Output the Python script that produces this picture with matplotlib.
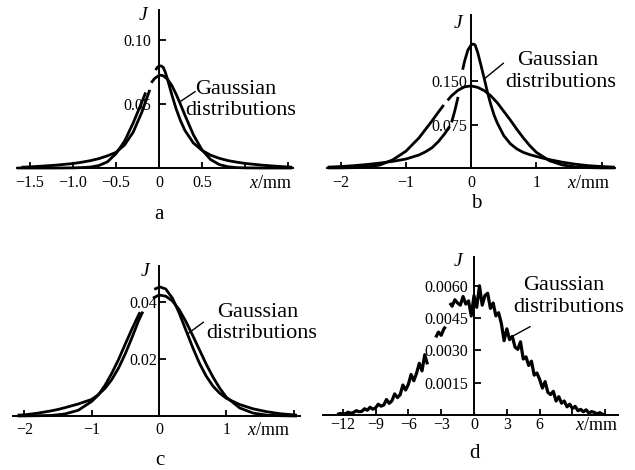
import matplotlib
matplotlib.use("Agg")
import matplotlib.pyplot as plt
import numpy as np
from matplotlib.lines import Line2D

plt.rcParams['font.family'] = 'Liberation Serif'
plt.rcParams['mathtext.fontset'] = 'custom'
plt.rcParams['mathtext.rm'] = 'Liberation Serif'
plt.rcParams['mathtext.it'] = 'Liberation Serif:italic'

W, H = 635, 470
M = '\u2212'

# ---- panel a (None = break in the printed curve) ----
xa_g = [-1.65, -1.2, -1.0, -0.9, -0.8, -0.7, -0.6, -0.5, -0.4, -0.3, -0.2, -0.155, None,
        -0.09, -0.05, 0, 0.02, 0.05, 0.1, 0.15, 0.2, 0.25, 0.3, 0.4, 0.5, 0.6, 0.7, 0.8,
        0.9, 1.0, 1.2, 1.55]
ja_g = [0, 0, 0.0001, 0.0003, 0.0007, 0.0019, 0.0048, 0.0112, 0.0210, 0.0352, 0.0514, 0.0590, None,
        0.0666, 0.0700, 0.0723, 0.0725, 0.0720, 0.0693, 0.0643, 0.0575, 0.0497, 0.0415, 0.0259,
        0.0141, 0.0066, 0.0027, 0.0010, 0.0003, 0.0001, 0, 0]
xa_s = [-1.6, -1.5, -1.4, -1.2, -1.0, -0.9, -0.8, -0.7, -0.6, -0.5, -0.4, -0.3, -0.2, -0.15,
        -0.107, None, -0.04, -0.02, 0, 0.025, 0.05, 0.075, 0.1, 0.15, 0.2, 0.25, 0.3, 0.4, 0.5,
        0.6, 0.7, 0.8, 0.9, 1.0, 1.2, 1.4, 1.55]
ja_s = [0.0006, 0.0009, 0.0013, 0.0022, 0.0035, 0.0045, 0.0057, 0.0073, 0.0095, 0.0122, 0.0180,
        0.0280, 0.0435, 0.0530, 0.0610, None, 0.0765, 0.0785, 0.0797, 0.0797, 0.0785, 0.0745,
        0.0690, 0.0570, 0.0460, 0.0370, 0.0295, 0.0195, 0.0138, 0.0100, 0.0076, 0.0058, 0.0046,
        0.0036, 0.0022, 0.0012, 0.0006]

# ---- panel b ----
xb_g = [-2.2, -2.0, -1.8, -1.6, -1.4, -1.2, -1.0, -0.8, -0.6, -0.5, -0.42, None, -0.36, -0.3,
        -0.2, -0.1, 0, 0.1, 0.2, 0.3, 0.4, 0.5, 0.6, 0.7, 0.8, 0.9, 1.0, 1.2, 1.4, 1.6, 1.8,
        2.0, 2.2]
jb_g = [0.0001, 0.0002, 0.0006, 0.0018, 0.0051, 0.0142, 0.0290, 0.0520, 0.0814, 0.0970, 0.1090,
        None, 0.1170, 0.1250, 0.1346, 0.1405, 0.1420, 0.1395, 0.1340, 0.1250, 0.1130, 0.0980,
        0.0830, 0.0670, 0.0520, 0.0385, 0.0270, 0.0125, 0.0052, 0.0018, 0.0006, 0.0002, 0.0001]
xb_s = [-2.2, -2.0, -1.8, -1.6, -1.4, -1.2, -1.0, -0.8, -0.7, -0.6, -0.5, -0.4, -0.33, None,
        -0.3, -0.25, -0.2, None, -0.13, -0.1, -0.05, 0, 0.03, 0.06, 0.1, 0.15, 0.2, 0.25, 0.3,
        0.35, 0.4, 0.5, 0.6, 0.7, 0.8, 0.9, 1.0, 1.1, 1.2, 1.4, 1.6, 1.8, 2.0, 2.2]
jb_s = [0.0015, 0.0025, 0.0040, 0.0060, 0.0085, 0.0115, 0.0155, 0.0225, 0.0280, 0.0350, 0.0460,
        0.0600, 0.0720, None, 0.0790, 0.0990, 0.1230, None, 0.1700, 0.1850, 0.2040, 0.2130,
        0.2145, 0.2130, 0.2000, 0.1780, 0.1550, 0.1310, 0.1100, 0.0920, 0.0780, 0.0560, 0.0420,
        0.0330, 0.0270, 0.0230, 0.0200, 0.0170, 0.0145, 0.0100, 0.0065, 0.0040, 0.0025, 0.0015]

# ---- panel c ----
xc_g = [-2.1, -1.8, -1.6, -1.4, -1.2, -1.0, -0.9, -0.8, -0.7, -0.6, -0.5, -0.4, -0.3, -0.28,
        None, -0.09, 0, 0.1, 0.2, 0.3, 0.4, 0.5, 0.6, 0.7, 0.8, 0.9, 1.0, 1.2, 1.4, 1.6, 1.8,
        2.05]
jc_g = [0, 0.0001, 0.0002, 0.0007, 0.0020, 0.0051, 0.0074, 0.0108, 0.0150, 0.0198, 0.0252,
        0.0305, 0.0355, 0.0363, None, 0.0412, 0.0423, 0.0419, 0.0402, 0.0372, 0.0330, 0.0282,
        0.0232, 0.0182, 0.0137, 0.0098, 0.0066, 0.0028, 0.0010, 0.0003, 0.0001, 0]
xc_s = [-2.1, -2.0, -1.8, -1.6, -1.5, -1.4, -1.2, -1.0, -0.9, -0.8, -0.7, -0.6, -0.5, -0.4,
        -0.3, -0.24, None, -0.07, 0, 0.02, 0.1, 0.2, 0.3, 0.4, 0.5, 0.6, 0.7, 0.8, 0.9, 1.0,
        1.2, 1.4, 1.6, 1.8, 2.05]
jc_s = [0.0003, 0.0004, 0.0010, 0.0018, 0.0023, 0.0029, 0.0042, 0.0058, 0.0075, 0.0097, 0.0128,
        0.0168, 0.0218, 0.0275, 0.0335, 0.0365, None, 0.0443, 0.0450, 0.0451, 0.0444, 0.0412,
        0.0360, 0.0300, 0.0240, 0.0185, 0.0140, 0.0105, 0.0080, 0.0062, 0.0040, 0.0025, 0.0015,
        0.0008, 0.0003]

# ---- panel d: measured (noisy) profile, J in units of 1e-4 ----
xd = [-12.5, -12.25, -12.0, -11.75, -11.5, -11.25, -11.0, -10.75, -10.5, -10.25, -10.0,
      -9.75, -9.5, -9.25, -9.0, -8.75, -8.5, -8.25, -8.0, -7.75, -7.5, -7.25, -7.0, -6.75,
      -6.5, -6.25, -6.0, -5.75, -5.5, -5.25, -5.0, -4.75, -4.5, -4.25, None,
      -3.5, -3.25, -3.0, -2.75, -2.6, None,
      -2.2, -2.0, -1.75, -1.5, -1.25, -1.0, -0.75, -0.5, -0.25, 0.0, 0.25, 0.5, 0.75, 1.0,
      1.25, 1.5, 1.75, 2.0, 2.25, 2.5, 2.75, 3.0, 3.25, 3.5, 3.75, 4.0, 4.25, 4.5, 4.75, 5.0,
      5.25, 5.5, 5.75, 6.0, 6.25, 6.5, 6.75, 7.0, 7.25, 7.5, 7.75, 8.0, 8.25, 8.5, 8.75, 9.0,
      9.25, 9.5, 9.75, 10.0, 10.25, 10.5, 10.75, 11.0, 11.25, 11.5, 11.75, 12.0]
jd_e4 = [0.2, 0.7, 0.5, 0.6, 1.3, 0.8, 1.2, 2.0, 1.5, 1.7, 2.9,
         2.2, 3.6, 2.7, 3.3, 5.0, 4.1, 4.6, 7.2, 5.4, 6.6, 9.8, 8.1, 9.4,
         13.9, 11.6, 14.2, 18.8, 15.9, 19.4, 24.0, 20.5, 28.0, 23.5, None,
         36.0, 38.5, 37.0, 40.0, 41.0, None,
         52.0, 50.5, 53.5, 52.0, 51.0, 55.0, 51.5, 53.0, 46.0, 55.5, 50.0, 60.0, 51.0, 55.5,
         56.5, 49.5, 52.0, 46.0, 47.5, 42.5, 34.5, 40.0, 35.0, 36.5, 31.5, 30.5, 34.0, 26.0,
         27.0, 23.0, 25.0, 18.5, 19.5, 16.5, 12.5, 15.5, 10.5, 9.5, 11.0, 6.5, 8.5, 5.5, 6.5,
         3.8, 5.0, 3.0, 4.0, 2.0, 2.6, 1.5, 2.4, 0.9, 1.6, 1.2, 0.5, 1.1, 0.3, 0.2]


def arr(v):
    return np.array([np.nan if e is None else e for e in v], dtype=float)


fig = plt.figure(figsize=(W / 100, H / 100), dpi=100)


def panel(left, right, axis_y, top, xlim, ylim):
    ax = fig.add_axes([left / W, 1 - axis_y / H, (right - left) / W, (axis_y - top) / H])
    ax.set_xlim(xlim)
    ax.set_ylim(ylim)
    ax.patch.set_visible(False)
    for s in ['top', 'right']:
        ax.spines[s].set_visible(False)
    ax.spines['left'].set_position(('data', 0))
    for s in ['left', 'bottom']:
        ax.spines[s].set_linewidth(1.4)
    return ax


def ticks(ax, xt, xl, yt, yl, xpad, ypad):
    ax.set_xticks(xt, xl)
    ax.set_yticks(yt, yl)
    ax.tick_params(axis='x', direction='in', length=4, width=1.3, labelsize=11.5, pad=xpad)
    ax.tick_params(axis='y', direction='in', length=5, width=1.3, labelsize=11.5, pad=ypad)


def curve(ax, x, y, lw=2.0):
    ax.plot(arr(x), arr(y), color='black', lw=lw, clip_on=False, solid_capstyle='butt')


def ftext(x, y, s, **kw):
    fig.text(x / W, 1 - y / H, s, **kw)


def leader(x0, y0, x1, y1):
    fig.add_artist(Line2D([x0 / W, x1 / W], [1 - y0 / H, 1 - y1 / H],
                          transform=fig.transFigure, color='black', lw=1.0))


def labels(gx, gy, dx, dy, letter, lx, ly, jx, jy, mx, my):
    ftext(gx, gy, 'Gaussian', fontsize=16, ha='left', va='baseline')
    ftext(dx, dy, 'distributions', fontsize=16, ha='left', va='baseline')
    ftext(lx, ly, letter, fontsize=15, ha='center', va='baseline')
    ftext(jx, jy, 'J', fontsize=14, style='italic', ha='center', va='center')
    ftext(mx, my, r'$x/\mathrm{mm}$', fontsize=13, ha='right', va='baseline')


# a
ax = panel(17, 293, 168, 10, (-1.651, 1.558), (0, 0.1234))
curve(ax, xa_g, ja_g)
curve(ax, xa_s, ja_s)
ticks(ax, [-1.5, -1.0, -0.5, 0, 0.5, 1.0, 1.5],
      [M + '1.5', M + '1.0', M + '0.5', '0', '0.5', '', ''],
      [0.05, 0.10], ['0.05', '0.10'], 5, 5.5)
labels(195, 94.3, 185, 115, 'a', 159, 219, 143.3, 15, 292, 188)
leader(195, 91.7, 180, 101.7)

# b
ax = panel(326.7, 615, 168, 15, (-2.213, 2.204), (0, 0.2647))
curve(ax, xb_g, jb_g)
curve(ax, xb_s, jb_s)
ticks(ax, [-2, -1, 0, 1, 2], [M + '2', M + '1', '0', '1', ''],
      [0.075, 0.150], ['0.075', '0.150'], 5, 3)
labels(516.7, 65, 505.7, 87.3, 'b', 476.7, 208, 458.3, 23.3, 610, 188)
leader(503.3, 63.3, 485, 78.3)

# c
ax = panel(13, 300, 416, 265.7, (-2.169, 2.095), (0, 0.05255))
curve(ax, xc_g, jc_g)
curve(ax, xc_s, jc_s)
ticks(ax, [-2, -1, 0, 1, 2], [M + '2', M + '1', '0', '1', ''],
      [0.02, 0.04], ['0.02', '0.04'], 4, 1.5)
labels(217, 316.7, 206.7, 338.3, 'c', 160, 465, 145, 271.7, 290, 435)
leader(203.3, 322.3, 188.3, 333.3)

# d
ax = panel(323, 618, 415, 256.7, (-13.80, 13.16), (0, 0.00735))
curve(ax, xd, arr(jd_e4) * 1e-4, lw=2.3)
ticks(ax, [-12, -9, -6, -3, 0, 3, 6, 9, 12],
      [M + '12', M + '9', M + '6', M + '3', '0', '3', '6', '', ''],
      [0.0015, 0.0030, 0.0045, 0.0060], ['0.0015', '0.0030', '0.0045', '0.0060'], 1.5, 4)
labels(523.3, 290, 513.3, 311.7, 'd', 474.3, 458, 458.3, 261.7, 618, 430)
leader(530, 326.7, 511.7, 336.7)

fig.savefig('out.png', dpi=100)
